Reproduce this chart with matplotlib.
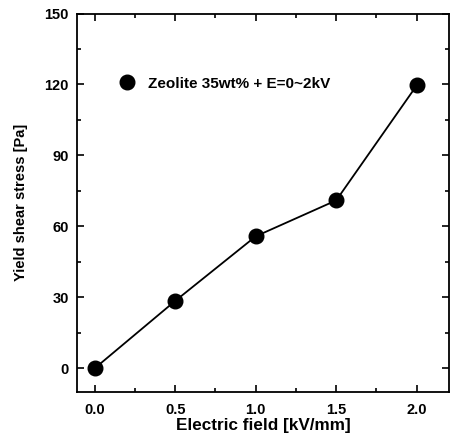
import matplotlib
matplotlib.use("Agg")
import matplotlib.pyplot as plt
from matplotlib.ticker import MultipleLocator

plt.rcParams['font.family'] = ['Liberation Sans', 'DejaVu Sans']
plt.rcParams['font.weight'] = 'bold'

field = [0.0, 0.5, 1.0, 1.5, 2.0]
stress = [0.0, 28.5, 55.8, 71.0, 119.6]
label = "Zeolite 35wt% + E=0~2kV"

fig = plt.figure(figsize=(4.53, 4.36), dpi=100)
ax = fig.add_axes([0.170, 0.101, 0.821, 0.868])
ax.plot(field, stress, color='black', lw=1.3, marker='o', ms=10.5,
        mfc='black', mec='black', label=label)
ax.set_xlim(-0.11, 2.2)
ax.set_ylim(-10, 150)
ax.xaxis.set_major_locator(MultipleLocator(0.5))
ax.xaxis.set_minor_locator(MultipleLocator(0.25))
ax.yaxis.set_major_locator(MultipleLocator(30))
ax.yaxis.set_minor_locator(MultipleLocator(15))
ax.xaxis.set_major_formatter(matplotlib.ticker.FormatStrFormatter('%.1f'))
ax.tick_params(which='both', direction='in', top=True, right=True, labelsize=10.5, width=1.2)
ax.tick_params(axis='x', which='major', pad=8)
ax.tick_params(axis='y', which='major', pad=6)
ax.tick_params(which='major', length=5)
ax.tick_params(which='minor', length=3)
for s in ax.spines.values():
    s.set_linewidth(1.3)
ax.set_xlabel("Electric field [kV/mm]", fontsize=12.3, fontweight='bold', labelpad=1)
ax.set_ylabel("Yield shear stress [Pa]", fontsize=10.5, fontweight='bold', labelpad=12)
ax.legend(loc='center left', bbox_to_anchor=(0.08, 0.815), frameon=False,
          handlelength=0.8, handletextpad=1.0,
          prop={'weight': 'bold', 'size': 11}, numpoints=1)
leg = ax.get_legend()
for h in leg.legend_handles:
    h.set_linestyle('none')
fig.savefig("out.png", dpi=100)
